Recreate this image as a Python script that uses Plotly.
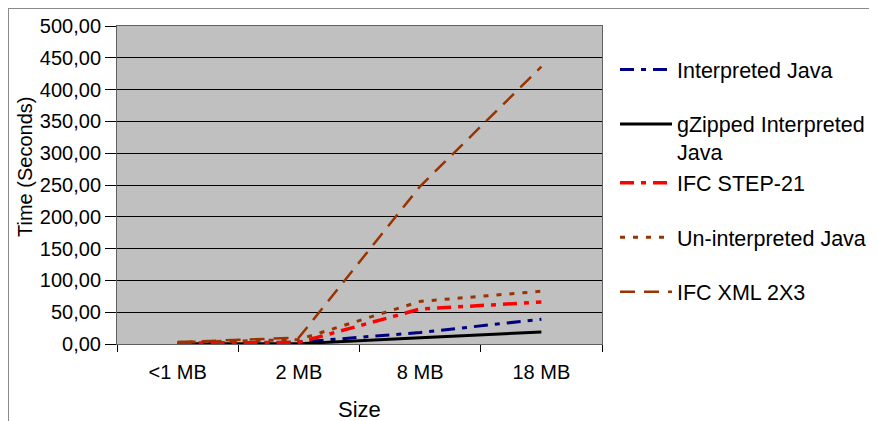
import plotly.graph_objects as go

categories = ["<1 MB", "2 MB", "8 MB", "18 MB"]
interpreted_java = [0.5, 3, 18, 39]
gzipped_interpreted_java = [0.2, 0.5, 10, 19]
ifc_step21 = [1.5, 2.5, 55, 66]
uninterpreted_java = [2.5, 7, 67, 83]
ifc_xml_2x3 = [3, 10, 248, 436]

series = [
    ("Interpreted Java", interpreted_java, "#000080", "14px,7px,5px,7px", 3, "g0"),
    ("gZipped Interpreted<br>Java", gzipped_interpreted_java, "#000000", "solid", 3, "g1"),
    ("IFC STEP-21", ifc_step21, "#FF0000", "14px,7px,5px,7px", 3.5, "g1"),
    ("Un-interpreted Java", uninterpreted_java, "#993300", "5px,8px", 3, "g2"),
    ("IFC XML 2X3", ifc_xml_2x3, "#993300", "15px,9px", 2.5, "g3"),
]

W, H = 869, 413
L, R, T, B = 109, 275, 18, 77
PW, PH = W - L - R, H - T - B

fig = go.Figure()
for name, vals, color, dash, w, grp in series:
    fig.add_trace(go.Scatter(
        x=categories, y=vals, name=name, mode="lines",
        line=dict(color=color, dash=dash, width=w),
        legendgroup=grp,
    ))

fig.update_layout(
    width=W, height=H,
    margin=dict(l=L, r=R, t=T, b=B, pad=0, autoexpand=False),
    plot_bgcolor="#C0C0C0",
    paper_bgcolor="white",
    separators=",.",
    font=dict(family="Liberation Sans, Arial", size=20, color="black"),
    showlegend=True,
    legend=dict(
        xref="container", yref="container",
        x=607 / W, xanchor="left", y=1 - 41 / H, yanchor="top",
        font=dict(size=21.5), tracegroupgap=23.5, valign="top",
        itemwidth=52, bgcolor="rgba(0,0,0,0)", borderwidth=0,
        maxheight=390,
    ),
    xaxis=dict(
        type="category", range=[-0.5, 3.5], tickson="boundaries",
        ticks="outside", ticklen=7, tickcolor="black",
        ticklabelstandoff=10,
        showline=True, linecolor="#606060", linewidth=1, mirror=True,
        showgrid=False,
    ),
    yaxis=dict(
        range=[0, 500], dtick=50, tickformat=".2f",
        ticks="outside", ticklen=11, tickcolor="black",
        showline=True, linecolor="#606060", linewidth=1, mirror=True,
        showgrid=True, gridcolor="black", gridwidth=1,
        zeroline=False,
    ),
    annotations=[
        dict(text="Size", xref="paper", yref="paper",
             x=0.5, y=-(401 - PH - T) / PH, xanchor="center", yanchor="middle",
             showarrow=False, font=dict(size=22)),
        dict(text="Time (Seconds)", xref="paper", yref="paper",
             x=(17 - L) / PW, y=(PH + T - 159) / PH, xanchor="center", yanchor="middle",
             textangle=-90, showarrow=False, font=dict(size=20)),
    ],
)

fig.add_shape(type="rect", xref="paper", yref="paper",
              x0=-L / PW, x1=5, y0=-5, y1=(PH + T) / PH,
              line=dict(color="#8a8a8a", width=2), layer="below")

fig.write_html("out.html", config={"displayModeBar": False})
